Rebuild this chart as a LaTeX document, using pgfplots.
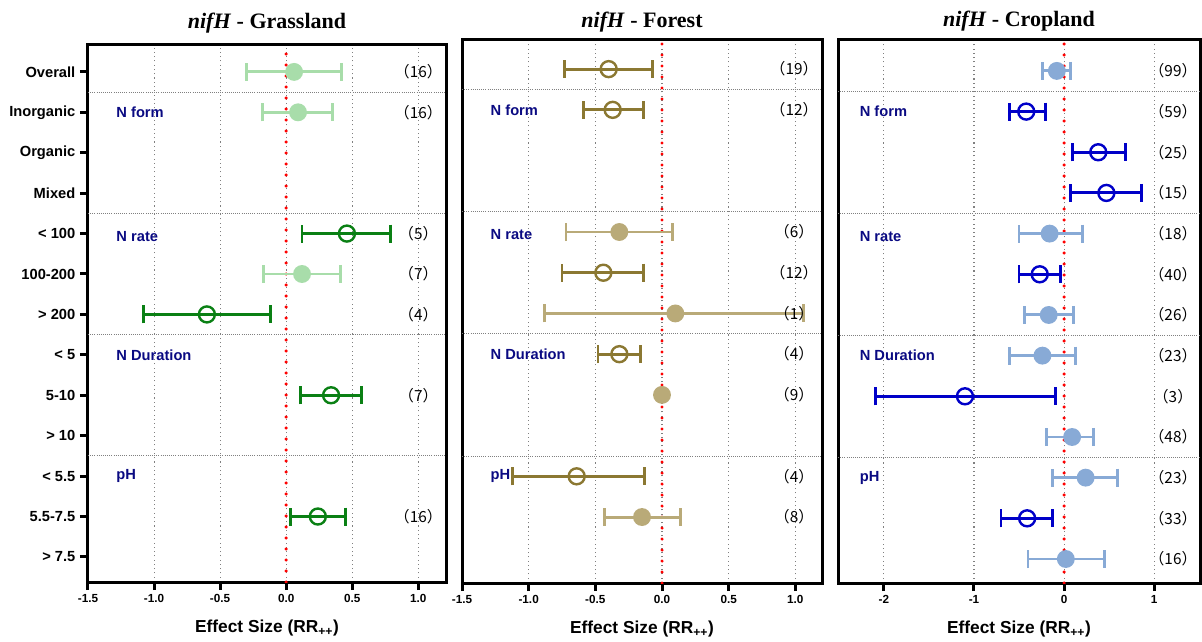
\documentclass[border=0pt]{standalone}
\usepackage{fontspec}
\setmainfont{Liberation Sans}
\newfontfamily\titlefont{Liberation Serif}
\newfontfamily\cjk{Noto Sans CJK SC}
\usepackage{pgfplots}
\pgfplotsset{compat=1.18}

\definecolor{gLight}{RGB}{168,221,170}
\definecolor{gDark}{RGB}{10,128,20}
\definecolor{fDark}{RGB}{139,120,50}
\definecolor{fLight}{RGB}{185,170,120}
\definecolor{cLight}{RGB}{136,170,214}
\definecolor{cDark}{RGB}{0,0,200}
\definecolor{navy}{RGB}{10,10,130}

\tikzset{
  grp/.style={font=\bfseries\fontsize{11}{12}\selectfont, text=navy, anchor=west},
  nlab/.style={font=\cjk\fontsize{11.5}{12}\selectfont, anchor=center},
}

\pgfplotsset{
  panel/.style={
    scale only axis,
    axis line style={line width=2.25pt},
    tick align=outside,
    xtick pos=bottom, ytick pos=left,
    major tick length=6pt,
    tick style={line width=2.25pt, black},
    xmajorgrids,
    major grid style={gray, line width=0.8pt, dash pattern=on 0.8pt off 2.4pt},
    extra y ticks={2.5,5.5,8.5,11.5},
    extra y tick labels={},
    extra y tick style={grid=major, major tick length=0pt,
      major grid style={gray, line width=0.6pt, dash pattern=on 0.6pt off 1pt}},
    xticklabel style={font=\bfseries\fontsize{8.8}{10}\selectfont},
    yticklabel style={font=\bfseries\fontsize{11}{12}\selectfont},
    /pgf/number format/assume math mode=true,
    xlabel={Effect Size (RR\textsubscript{++})},
    xlabel style={font=\bfseries\fontsize{13}{14}\selectfont,
      at={(axis description cs:0.5,0)}, anchor=base, yshift=-38pt},
    title style={font=\titlefont\bfseries\fontsize{16.5}{18}\selectfont,
      at={(axis description cs:0.5,1)}, anchor=base},
    error bars/error bar style={line width=2.2pt},
    error bars/error mark options={rotate=90, mark size=6.75pt, line width=2.2pt},
  },
  filled/.style={only marks, color=#1, mark=*, mark size=5.8pt,
    mark options={fill=#1, draw=#1, line width=1.8pt},
    error bars/.cd, x dir=both, x explicit},
  open/.style={only marks, color=#1, mark=o, mark size=6pt,
    mark options={draw=#1, fill=none, line width=1.8pt},
    error bars/.cd, x dir=both, x explicit},
  zeroline/.style={red, line width=2.6pt, line cap=round, dash pattern=on 0pt off 8.25pt},
}

\begin{document}
\begin{tikzpicture}
\path (0pt,0pt) rectangle (901.5pt,-481.5pt);

% ---------- Grassland ----------
\begin{axis}[panel,
  at={(66pt,-436.5pt)}, anchor=south west,
  width=268.5pt, height=403.5pt,
  xmin=-1.5, xmax=1.21, ymin=-0.62, ymax=12.69,
  xtick={-1.5,-1,-0.5,0,0.5,1},
  xticklabel style={/pgf/number format/fixed, /pgf/number format/fixed zerofill, /pgf/number format/precision=1},
  ytick={0,...,12},
  yticklabels={> 7.5, 5.5-7.5, < 5.5, > 10, 5-10, < 5, > 200, 100-200, < 100, Mixed, Organic, Inorganic, Overall},
  title={\textit{nifH} - Grassland},
  title style={yshift=6pt},
]
\addplot[zeroline] coordinates {(0,-0.62) (0,12.69)};
\addplot[filled=gLight] table[x=x, y=y, x error minus=em, x error plus=ep] {
x y em ep
0.06 12 0.36 0.36
0.09 11 0.27 0.26
0.12 7 0.29 0.29
};
\addplot[open=gDark] table[x=x, y=y, x error minus=em, x error plus=ep] {
x y em ep
0.46 8 0.34 0.33
-0.60 6 0.48 0.48
0.34 4 0.23 0.23
0.24 1 0.21 0.21
};
\node[grp] at (axis cs:-1.32,11) {N form};
\node[grp] at (axis cs:-1.32,7.93) {N rate};
\node[grp] at (axis cs:-1.32,5) {N Duration};
\node[grp] at (axis cs:-1.32,2) {pH};
\node[nlab] at (axis cs:1.0,12) {（16）};
\node[nlab] at (axis cs:1.0,11) {（16）};
\node[nlab] at (axis cs:1.0,8) {（5）};
\node[nlab] at (axis cs:1.0,7) {（7）};
\node[nlab] at (axis cs:1.0,6) {（4）};
\node[nlab] at (axis cs:1.0,4) {（7）};
\node[nlab] at (axis cs:1.0,1) {（16）};
\end{axis}

% ---------- Forest ----------
\begin{axis}[panel,
  at={(346.5pt,-437.25pt)}, anchor=south west,
  width=270pt, height=408pt,
  xmin=-1.5, xmax=1.2, ymin=-0.62, ymax=12.74,
  xtick={-1.5,-1,-0.5,0,0.5,1},
  xticklabel style={/pgf/number format/fixed, /pgf/number format/fixed zerofill, /pgf/number format/precision=1},
  ytick=\empty,
  title={\textit{nifH} - Forest},
  title style={yshift=3pt},
]
\addplot[zeroline] coordinates {(0,-0.62) (0,12.74)};
\addplot[filled=fLight] table[x=x, y=y, x error minus=em, x error plus=ep] {
x y em ep
-0.32 8 0.40 0.40
0.10 6 0.98 0.96
-0.15 1 0.28 0.29
};
\addplot[only marks, mark=*, mark size=5.8pt, color=fLight, mark options={line width=1.8pt}] coordinates {(0.0,4)};
\addplot[open=fDark] table[x=x, y=y, x error minus=em, x error plus=ep] {
x y em ep
-0.40 12 0.33 0.33
-0.37 11 0.22 0.23
-0.44 7 0.31 0.30
-0.32 5 0.16 0.16
-0.64 2 0.48 0.51
};
\node[grp] at (axis cs:-1.32,11) {N form};
\node[grp] at (axis cs:-1.32,7.93) {N rate};
\node[grp] at (axis cs:-1.32,5) {N Duration};
\node[grp] at (axis cs:-1.32,2) {pH};
\node[nlab] at (axis cs:0.99,12) {（19）};
\node[nlab] at (axis cs:0.99,11) {（12）};
\node[nlab] at (axis cs:0.99,8) {（6）};
\node[nlab] at (axis cs:0.99,7) {（12）};
\node[nlab] at (axis cs:0.99,6) {（1）};
\node[nlab] at (axis cs:0.99,5) {（4）};
\node[nlab] at (axis cs:0.99,4) {（9）};
\node[nlab] at (axis cs:0.99,2) {（4）};
\node[nlab] at (axis cs:0.99,1) {（8）};
\end{axis}

% ---------- Cropland ----------
\begin{axis}[panel,
  at={(628.5pt,-437.25pt)}, anchor=south west,
  width=271.5pt, height=407.25pt,
  xmin=-2.51, xmax=1.51, ymin=-0.59, ymax=12.76,
  xtick={-2,-1,0,1},
  ytick=\empty,
  title={\textit{nifH} - Cropland},
  title style={yshift=3.75pt},
]
\addplot[zeroline] coordinates {(0,-0.59) (0,12.76)};
\addplot[filled=cLight] table[x=x, y=y, x error minus=em, x error plus=ep] {
x y em ep
-0.08 12 0.16 0.15
-0.16 8 0.34 0.36
-0.17 6 0.27 0.28
-0.24 5 0.37 0.37
0.09 3 0.28 0.24
0.24 2 0.37 0.35
0.02 0 0.42 0.43
};
\addplot[open=cDark] table[x=x, y=y, x error minus=em, x error plus=ep] {
x y em ep
-0.42 11 0.19 0.21
0.38 10 0.29 0.30
0.47 9 0.40 0.39
-0.27 7 0.23 0.23
-1.10 4 0.99 1.00
-0.41 1 0.29 0.28
};
\node[grp] at (axis cs:-2.32,11) {N form};
\node[grp] at (axis cs:-2.32,7.93) {N rate};
\node[grp] at (axis cs:-2.32,5) {N Duration};
\node[grp] at (axis cs:-2.32,2) {pH};
\node[nlab] at (axis cs:1.21,12) {（99）};
\node[nlab] at (axis cs:1.21,11) {（59）};
\node[nlab] at (axis cs:1.21,10) {（25）};
\node[nlab] at (axis cs:1.21,9) {（15）};
\node[nlab] at (axis cs:1.21,8) {（18）};
\node[nlab] at (axis cs:1.21,7) {（40）};
\node[nlab] at (axis cs:1.21,6) {（26）};
\node[nlab] at (axis cs:1.21,5) {（23）};
\node[nlab] at (axis cs:1.21,4) {（3）};
\node[nlab] at (axis cs:1.21,3) {（48）};
\node[nlab] at (axis cs:1.21,2) {（23）};
\node[nlab] at (axis cs:1.21,1) {（33）};
\node[nlab] at (axis cs:1.21,0) {（16）};
\end{axis}
\end{tikzpicture}
\end{document}
